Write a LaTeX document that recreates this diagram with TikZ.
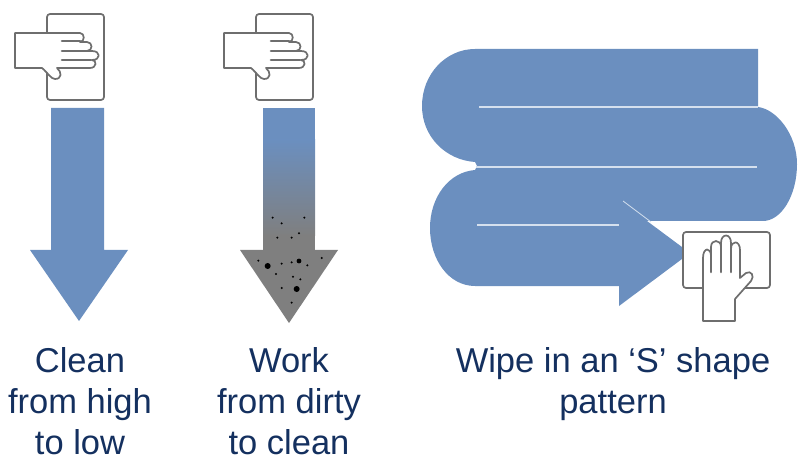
\documentclass[tikz,border=0pt]{standalone}
\usepackage{fontspec}
\setmainfont{Liberation Sans}
\definecolor{wipeblue}{HTML}{6B8FBF}
\definecolor{iconline}{HTML}{6E6E6E}
\definecolor{soilgrey}{HTML}{7F7F7F}
\definecolor{labelnavy}{HTML}{14305F}
\definecolor{seamline}{HTML}{D5E0EE}
\tikzset{
  iconstroke/.style={draw=iconline,line width=1.7pt,line join=round,line cap=round},
  fingerline/.style={draw=iconline,line width=2.6pt,line cap=round},
  seam/.style={draw=seamline,line width=1.3pt},
  speck/.style={fill=black,draw=none},
  caption/.style={text=labelnavy,align=center,anchor=north,inner sep=0pt,
    font=\fontsize{34.5}{41.3}\selectfont},
  pics/sidehand/.style={code={
    \draw[iconstroke,fill=white,rounded corners=3pt] (47,14) rectangle (104,100);
    \draw[iconstroke,fill=white] (15,33) -- (80,33)
      .. controls (85,33) and (85,42) .. (80,42) -- (87,42)
      .. controls (93,42) and (93,51) .. (87,51) -- (92,51)
      .. controls (101,51) and (101,60) .. (92,60)
      .. controls (97,60) and (97,68) .. (90,68)
      -- (57,68) .. controls (62,72) and (62,79) .. (55,79)
      .. controls (51,79) and (48,73) .. (42,68) -- (15,68) -- cycle;
    \draw[fingerline] (62,41) -- (80,41) (62,51) -- (87,51) (62,60) -- (91,60);
  }},
}
\begin{document}
\begin{tikzpicture}[x=1pt,y=-1pt]
\useasboundingbox (0,0) rectangle (798,457);
% left icon and arrow
\pic at (0,0) {sidehand};
\fill[wipeblue] (51,108) -- (104,108) -- (104,250) -- (128,250) -- (79,321) -- (30,250) -- (51,250) -- cycle;
% middle icon and arrow
\pic at (209,0) {sidehand};
\fill[wipeblue] (263,108) rectangle (315,141);
\shade[top color=wipeblue,bottom color=soilgrey] (263,140) rectangle (315,236);
\fill[soilgrey] (263,235) rectangle (315,251);
\fill[soilgrey] (240,250) -- (338,250) -- (289,323) -- cycle;
\foreach \px/\py in {128/113,223/113,155/130,207/160,142/173,185/173,85/242,155/251,185/247,232/256,275/234,138/282,189/290,211/298,155/324,185/368}
  \fill[speck] ({230+\px/3},{180+\py/3}) circle (1.1pt);
\foreach \px/\py/\pr in {113/258/3,207/243/2.4,200/327/3}
  \fill[speck] ({230+\px/3},{180+\py/3}) circle (\pr pt);
% S-shaped band
\fill[wipeblue] (758,49) -- (475,49)
  .. controls (446,49) and (422,74) .. (422,106)
  .. controls (422,137) and (446,160) .. (475,162)
  -- (477,166) -- (475,170)
  .. controls (449,172) and (430,197) .. (430,228)
  .. controls (430,260) and (449,286) .. (475,286)
  -- (619,286) -- (619,306) -- (690,253) -- (647,221)
  -- (763,221)
  .. controls (781,221) and (797,196) .. (797,164)
  .. controls (797,134) and (776,109) .. (758,107) -- cycle;
\draw[seam] (479,107) -- (758,107);
\draw[seam] (476,167) -- (757,167);
\draw[seam] (477,225) -- (619,225);
\draw[seamline,line width=.8pt] (623,201) -- (651,222);
% wiping hand
\draw[iconstroke,fill=white,rounded corners=3pt] (683,232) rectangle (770,288);
\draw[iconstroke,fill=white] (703,321) -- (703,258)
  .. controls (703,247) and (711,247) .. (711,256)
  -- (711,247) .. controls (711,239) and (721,239) .. (721,247)
  -- (721,243) .. controls (721,233) and (731,233) .. (731,243)
  -- (731,249) .. controls (731,240) and (740,240) .. (740,250)
  -- (740,278) -- (746,273)
  .. controls (751,270) and (755,276) .. (751,281)
  -- (735,299) -- (735,321) -- cycle;
\draw[fingerline] (711,256) -- (711,272) (721,247) -- (721,272) (731,249) -- (731,272);
% captions
\node[caption] (clean) at (80,347) {Clean\\from high\\to low};
\node[caption] (work) at (289,347) {Work\\from dirty\\to clean};
\node[caption] (wipe) at (613,347) {Wipe in an ‘S’ shape\\pattern};
\end{tikzpicture}
\end{document}
